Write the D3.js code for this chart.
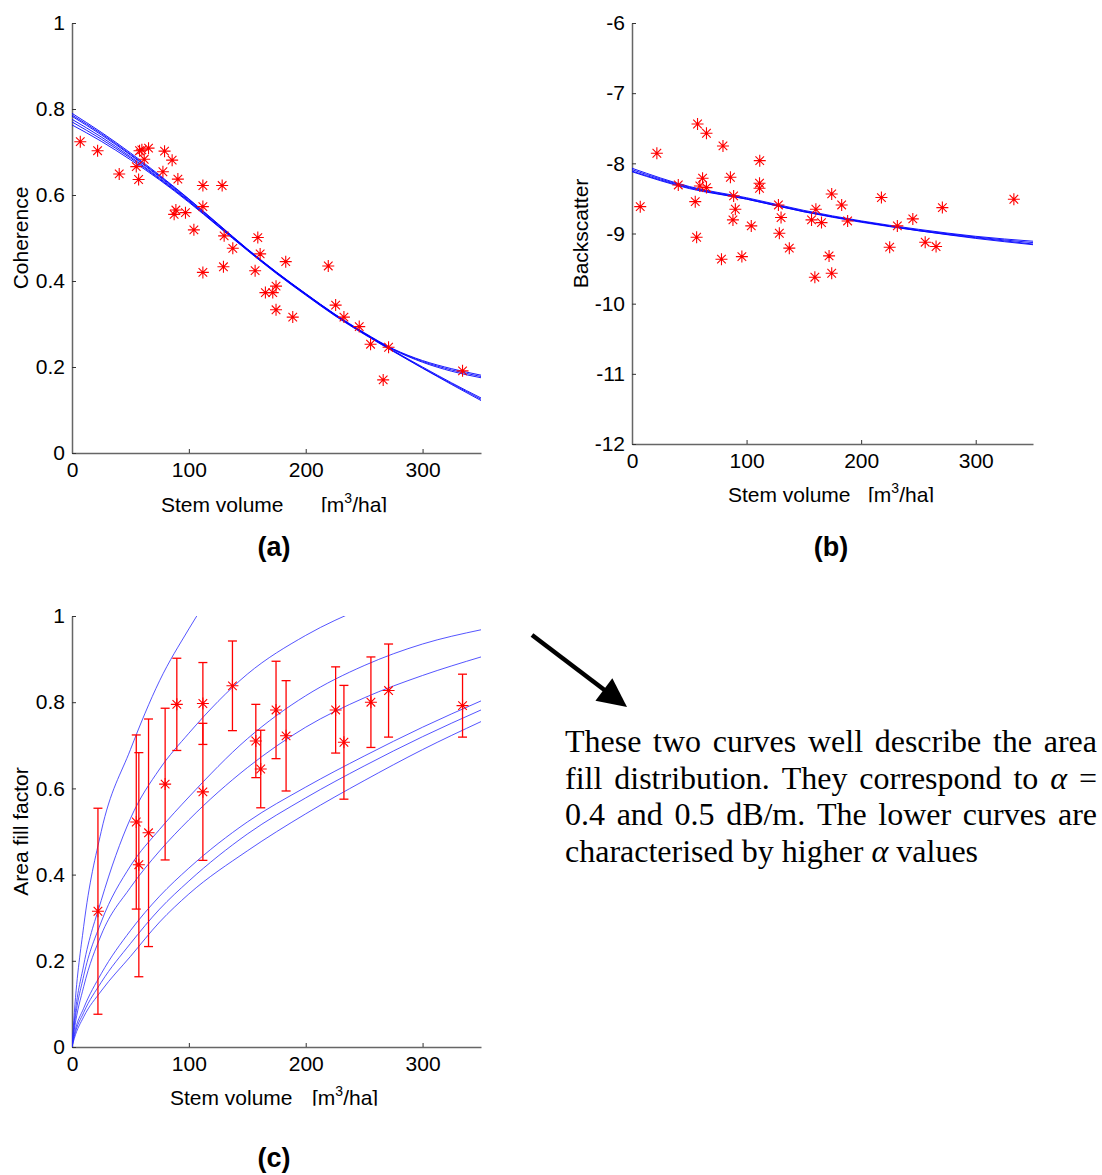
<!DOCTYPE html>
<html>
<head>
<meta charset="utf-8">
<script src="https://cdn.jsdelivr.net/npm/d3@7"></script>
<style>
  body { margin: 0; background: #fff; }
</style>
</head>
<body>
<svg id="fig" width="1102" height="1175"></svg>
<script>
// ---- shared ----
const volTicks = [0, 100, 200, 300];

// ---- (a) coherence vs stem volume ----
const cohVol = [7.1, 21.9, 40.4, 55.0, 57.0, 57.8, 59.8, 61.8, 65.5, 79.2, 85.7, 77.8, 90.6, 88.9, 87.4, 97.1,
    104.3, 112.0, 112.0, 128.5, 112.0, 130.2, 137.6, 129.6, 159.0, 161.0, 156.7, 182.9, 219.3, 165.5, 171.8,
    174.6, 174.6, 188.9, 225.6, 232.7, 245.8, 255.5, 270.9, 266.3, 334.2];
const cohVal = [0.724, 0.703, 0.649, 0.666, 0.636, 0.703, 0.705, 0.683, 0.709, 0.702, 0.681, 0.654, 0.637, 0.565,
    0.555, 0.559, 0.519, 0.622, 0.573, 0.622, 0.420, 0.505, 0.476, 0.433, 0.501, 0.463, 0.424, 0.445, 0.435,
    0.373, 0.373, 0.388, 0.333, 0.316, 0.344, 0.316, 0.294, 0.253, 0.246, 0.170, 0.191];
const cohGrid = [0, 25, 50, 75, 100, 125, 150, 175, 200, 225, 250, 275, 300, 325, 350];
const cohFits = [
    [0.790, 0.746, 0.698, 0.646, 0.591, 0.533, 0.475, 0.421, 0.371, 0.323, 0.280, 0.242, 0.215, 0.196, 0.181],
    [0.783, 0.740, 0.693, 0.642, 0.588, 0.531, 0.474, 0.420, 0.370, 0.322, 0.279, 0.241, 0.213, 0.193, 0.178],
    [0.776, 0.735, 0.689, 0.639, 0.586, 0.529, 0.473, 0.419, 0.369, 0.321, 0.278, 0.240, 0.211, 0.190, 0.175],
    [0.786, 0.743, 0.695, 0.644, 0.590, 0.532, 0.474, 0.420, 0.370, 0.322, 0.278, 0.238, 0.200, 0.163, 0.128],
    [0.770, 0.730, 0.686, 0.637, 0.585, 0.528, 0.472, 0.418, 0.368, 0.320, 0.277, 0.237, 0.198, 0.161, 0.125],
    [0.763, 0.725, 0.682, 0.635, 0.583, 0.527, 0.471, 0.417, 0.367, 0.319, 0.276, 0.236, 0.197, 0.159, 0.122]
];
const cohTicks = [0, 0.2, 0.4, 0.6, 0.8, 1];

// ---- (b) backscatter vs stem volume ----
const bsVol = [7.2, 21.7, 40.4, 57.2, 65.0, 79.4, 55.2, 61.6, 59.2, 65.0, 56.4, 85.9, 88.7, 90.2, 88.1, 104.1,
    111.5, 111.3, 111.3, 127.8, 130.1, 128.6, 137.3, 78.1, 95.9, 160.5, 156.7, 165.4, 174.3, 183.0, 188.2,
    172.0, 174.3, 159.6, 217.7, 231.6, 224.9, 245.1, 255.9, 265.4, 270.9, 333.3];
const bsVal = [-8.617, -7.856, -8.308, -7.439, -7.571, -7.752, -8.546, -8.212, -8.322, -8.346, -9.053, -8.198,
    -8.464, -8.654, -8.806, -8.892, -7.962, -8.283, -8.355, -8.593, -8.773, -8.996, -9.209, -9.366, -9.329,
    -8.654, -8.806, -8.845, -8.436, -8.593, -8.821, -9.319, -9.566, -9.623, -8.488, -8.892, -9.195, -8.792,
    -9.124, -9.186, -8.631, -8.512];
const bsGrid = [0, 50, 100, 150, 200, 250, 300, 350];
const bsFits = [
    [-8.07, -8.33, -8.49, -8.67, -8.82, -8.94, -9.04, -9.11],
    [-8.09, -8.34, -8.50, -8.68, -8.83, -8.95, -9.05, -9.13],
    [-8.11, -8.35, -8.51, -8.69, -8.83, -8.96, -9.06, -9.15],
    [-8.12, -8.36, -8.51, -8.69, -8.84, -8.96, -9.07, -9.16]
];
const bsTicks = [-12, -11, -10, -9, -8, -7, -6];

// ---- (c) area fill factor vs stem volume ----
const afVol = [22.2, 55.0, 57.2, 65.5, 79.7, 89.7, 112.0, 112.0, 137.3, 157.3, 161.5, 174.6, 183.2, 225.6,
    232.7, 255.8, 270.9, 334.2];
const afVal = [0.315, 0.522, 0.423, 0.497, 0.610, 0.795, 0.797, 0.592, 0.838, 0.710, 0.645, 0.782, 0.722,
    0.782, 0.707, 0.800, 0.827, 0.792];
const afErr = [0.239, 0.202, 0.260, 0.264, 0.176, 0.107, 0.095, 0.159, 0.104, 0.085, 0.090, 0.113, 0.128,
    0.100, 0.132, 0.105, 0.108, 0.073];
const afGrid = [0, 2, 10, 25, 50, 75, 100, 150, 200, 250, 300, 350];
const afFits = [
    [0, 0.08, 0.28, 0.50, 0.69, 0.85, 0.97, 1.17, null, null, null, null],
    [0, 0.06, 0.19, 0.34, 0.53, 0.645, 0.728, 0.865, 0.955, 1.02, null, null],
    [0, 0.05, 0.165, 0.29, 0.42, 0.505, 0.58, 0.715, 0.815, 0.885, 0.935, 0.968],
    [0, 0.04, 0.14, 0.26, 0.37, 0.455, 0.527, 0.648, 0.742, 0.81, 0.862, 0.905],
    [0, 0.03, 0.09, 0.17, 0.27, 0.35, 0.415, 0.522, 0.603, 0.675, 0.742, 0.803],
    [0, 0.025, 0.08, 0.15, 0.24, 0.32, 0.385, 0.494, 0.578, 0.652, 0.72, 0.782],
    [0, 0.02, 0.07, 0.13, 0.21, 0.29, 0.355, 0.455, 0.541, 0.618, 0.69, 0.755]
];
const afTicks = [0, 0.2, 0.4, 0.6, 0.8, 1];

// ---- annotation ----
const noteLines = [
    ['These', 'two', 'curves', 'well', 'describe', 'the', 'area'],
    ['fill', 'distribution.', 'They', 'correspond', 'to', 'α', '='],
    ['0.4', 'and', '0.5', 'dB/m.', 'The', 'lower', 'curves', 'are'],
    ['characterised', 'by', 'higher', 'α', 'values']
];

const svg = d3.select('#fig');
const sans = 'Arial, "Liberation Sans", sans-serif';
const serif = '"Times New Roman", "Liberation Serif", serif';
const red = '#ff0000';

// MATLAB style '*' marker: a + and an x on top of each other
function starPath(cx, cy) {
    const r = 6, d = 4.3;
    return `M${cx - r},${cy}H${cx + r}M${cx},${cy - r}V${cy + r}` +
        `M${cx - d},${cy - d}L${cx + d},${cy + d}M${cx - d},${cy + d}L${cx + d},${cy - d}`;
}

function drawPanel(p) {
    const x = d3.scaleLinear().domain([0, 350]).range([p.left, p.right]);
    const y = d3.scaleLinear().domain(p.yDomain).range([p.bottom, p.top]);
    const g = svg.append('g');

    svg.append('clipPath').attr('id', 'plot-' + p.id)
        .append('rect')
        .attr('x', p.left).attr('y', p.top)
        .attr('width', p.right - p.left).attr('height', p.bottom - p.top);

    // axes
    const xAxis = g.append('g')
        .attr('transform', `translate(0,${p.bottom})`)
        .call(d3.axisBottom(x).tickValues(volTicks).tickSizeInner(-4).tickSizeOuter(0)
            .tickPadding(9).tickFormat(d => String(d)));
    const yAxis = g.append('g')
        .attr('transform', `translate(${p.left},0)`)
        .call(d3.axisLeft(y).tickValues(p.yTicks).tickSizeInner(-4).tickSizeOuter(0)
            .tickPadding(7).tickFormat(d => String(d)));
    [xAxis, yAxis].forEach(a => {
        a.attr('font-size', 21).attr('font-family', sans);
        a.selectAll('text').attr('fill', '#000');
        a.select('.domain').attr('stroke', '#666').attr('stroke-width', 1.5);
        a.selectAll('.tick line').attr('stroke', '#333');
    });

    // y label
    g.append('text')
        .attr('transform', `translate(${p.yLabelX},${(p.top + p.bottom) / 2}) rotate(-90)`)
        .attr('text-anchor', 'middle')
        .attr('font-family', sans).attr('font-size', 21)
        .text(p.yLabel);

    // x label, cut off just under the baseline like the source
    svg.append('clipPath').attr('id', 'xl-' + p.id)
        .append('rect')
        .attr('x', p.left - 80).attr('y', p.xLabelY - 40)
        .attr('width', 500).attr('height', 40.8);
    const xl = g.append('g').attr('clip-path', `url(#xl-${p.id})`)
        .attr('font-family', sans).attr('font-size', 21);
    xl.append('text').attr('x', p.xLabelX1).attr('y', p.xLabelY).text('Stem volume');
    const unit = xl.append('text').attr('x', p.xLabelX2).attr('y', p.xLabelY);
    unit.append('tspan').text('[m');
    unit.append('tspan').attr('font-size', 14).attr('dy', -9).text('3');
    unit.append('tspan').attr('dy', 9).text('/ha]');

    // panel tag
    g.append('text')
        .attr('x', p.tagX).attr('y', p.tagY)
        .attr('text-anchor', 'middle')
        .attr('font-family', sans).attr('font-size', 27).attr('font-weight', 'bold')
        .text(p.tag);

    // fitted curves
    const line = d3.line()
        .defined(d => d[1] != null)
        .x(d => x(d[0])).y(d => y(d[1]))
        .curve(d3.curveMonotoneX);
    g.append('g').attr('clip-path', `url(#plot-${p.id})`)
        .selectAll('path')
        .data(p.fits)
        .join('path')
        .attr('d', vals => line(p.grid.map((v, i) => [v, vals[i]])))
        .attr('fill', 'none')
        .attr('stroke', p.curveColor)
        .attr('stroke-width', p.curveWidth)
        .attr('stroke-opacity', p.curveOpacity);

    // error bars
    if (p.err) {
        const eb = g.append('g').attr('stroke', red).attr('stroke-width', 1.3);
        p.vol.forEach((v, i) => {
            const cx = x(v), y1 = y(p.val[i] - p.err[i]), y2 = y(p.val[i] + p.err[i]);
            eb.append('line').attr('x1', cx).attr('x2', cx).attr('y1', y1).attr('y2', y2);
            eb.append('line').attr('x1', cx - 4.5).attr('x2', cx + 4.5).attr('y1', y1).attr('y2', y1);
            eb.append('line').attr('x1', cx - 4.5).attr('x2', cx + 4.5).attr('y1', y2).attr('y2', y2);
        });
    }

    // measured points
    g.append('g')
        .selectAll('path')
        .data(p.vol)
        .join('path')
        .attr('d', (v, i) => starPath(x(v), y(p.val[i])))
        .attr('fill', 'none')
        .attr('stroke', red)
        .attr('stroke-width', 1.1);
}

drawPanel({
    id: 'a', left: 72, right: 481, top: 23, bottom: 453,
    yDomain: [0, 1], yTicks: cohTicks, yLabel: 'Coherence', yLabelX: 28,
    xLabelX1: 161, xLabelX2: 321, xLabelY: 511.5,
    tag: '(a)', tagX: 274, tagY: 556,
    vol: cohVol, val: cohVal, grid: cohGrid, fits: cohFits,
    curveColor: '#0000ff', curveWidth: 1, curveOpacity: 0.9
});

drawPanel({
    id: 'b', left: 632, right: 1033, top: 23, bottom: 444,
    yDomain: [-12, -6], yTicks: bsTicks, yLabel: 'Backscatter', yLabelX: 588,
    xLabelX1: 728, xLabelX2: 868, xLabelY: 501.5,
    tag: '(b)', tagX: 831, tagY: 556,
    vol: bsVol, val: bsVal, grid: bsGrid, fits: bsFits,
    curveColor: '#0000ff', curveWidth: 1, curveOpacity: 0.9
});

drawPanel({
    id: 'c', left: 72, right: 481, top: 616, bottom: 1047,
    yDomain: [0, 1], yTicks: afTicks, yLabel: 'Area fill factor', yLabelX: 28,
    xLabelX1: 170, xLabelX2: 312, xLabelY: 1105,
    tag: '(c)', tagX: 274, tagY: 1167,
    vol: afVol, val: afVal, err: afErr, grid: afGrid, fits: afFits,
    curveColor: '#2a2aff', curveWidth: 1, curveOpacity: 0.8
});

// ---- arrow ----
(function drawArrow() {
    const s = [532, 635], t = [627, 707];
    const len = Math.hypot(t[0] - s[0], t[1] - s[1]);
    const u = [(t[0] - s[0]) / len, (t[1] - s[1]) / len];
    const n = [-u[1], u[0]];
    const headLen = 29, headHalf = 14;
    const b = [t[0] - u[0] * headLen, t[1] - u[1] * headLen];
    svg.append('line')
        .attr('x1', s[0]).attr('y1', s[1]).attr('x2', b[0] + u[0] * 2).attr('y2', b[1] + u[1] * 2)
        .attr('stroke', '#000').attr('stroke-width', 4.5);
    svg.append('path')
        .attr('d', `M${t[0]},${t[1]}L${b[0] + n[0] * headHalf},${b[1] + n[1] * headHalf}` +
            `L${b[0] - n[0] * headHalf},${b[1] - n[1] * headHalf}Z`)
        .attr('fill', '#000');
})();

// ---- justified note ----
(function drawNote() {
    const left = 565, right = 1097, firstBase = 752, lineStep = 36.7, fontSize = 32;
    const note = svg.append('g').attr('font-family', serif).attr('font-size', fontSize).attr('fill', '#000');
    noteLines.forEach((words, li) => {
        const yb = firstBase + li * lineStep;
        const nodes = words.map(w => note.append('text')
            .attr('y', yb)
            .attr('font-style', w === 'α' ? 'italic' : null)
            .text(w));
        const widths = nodes.map(nd => nd.node().getComputedTextLength());
        const total = d3.sum(widths);
        const last = li === noteLines.length - 1;
        const gap = last ? fontSize * 0.25 : (right - left - total) / (words.length - 1);
        let xPos = left;
        nodes.forEach((nd, i) => {
            nd.attr('x', xPos);
            xPos += widths[i] + gap;
        });
    });
})();
</script>
</body>
</html>
